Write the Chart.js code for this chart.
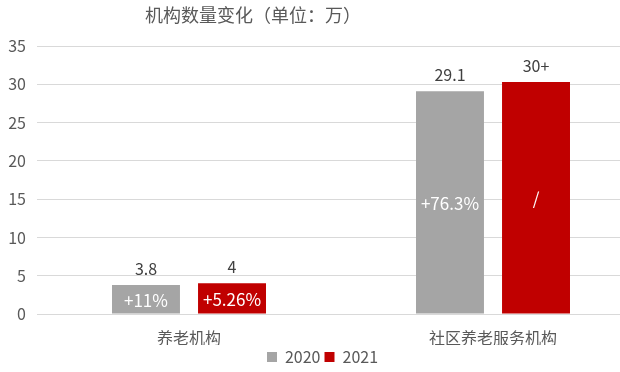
<!DOCTYPE html>
<html lang="zh-CN">
<head>
<meta charset="UTF-8">
<title>机构数量变化</title>
<script src="https://cdn.jsdelivr.net/npm/chart.js"></script>
<style>
  body { margin: 0; background: #fff; }
  #wrap { position: relative; width: 620px; height: 372px; overflow: hidden; }
  #inner { position: absolute; left: 0; top: 0; width: 645px; height: 372px; }
  #titulo {
    position: absolute; left: 0; top: 1px; width: 506px; text-align: center;
    font-family: "Noto Sans CJK SC", sans-serif; font-size: 18px; color: #595959;
  }
</style>
</head>
<body>
<div id="wrap">
  <div id="inner"><canvas id="grafico"></canvas></div>
  <div id="titulo">机构数量变化（单位：万）</div>
</div>
<script>
// dados
const categorias = ['养老机构', '社区养老服务机构'];
const valores2020 = [3.8, 29.1];
const valores2021 = [4, 30.3];
const rotulos2020 = ['3.8', '29.1'];
const rotulos2021 = ['4', '30+'];
const internos2020 = ['+11%', '+76.3%'];
const internos2021 = ['+5.26%', '/'];

const fonte = '"Noto Sans CJK SC", sans-serif';

// desenha os rótulos acima e dentro das barras
const rotulosPlugin = {
  id: 'rotulos',
  afterDatasetsDraw(chart) {
    const ctx = chart.ctx;
    const topo = [rotulos2020, rotulos2021];
    const dentro = [internos2020, internos2021];
    ctx.save();
    ctx.textAlign = 'center';
    ctx.textBaseline = 'middle';
    chart.data.datasets.forEach((ds, i) => {
      chart.getDatasetMeta(i).data.forEach((bar, j) => {
        ctx.font = '16px ' + fonte;
        ctx.fillStyle = '#404040';
        ctx.fillText(topo[i][j], bar.x, bar.y - 16);
        ctx.font = '17px ' + fonte;
        ctx.fillStyle = '#ffffff';
        ctx.fillText(dentro[i][j], bar.x, (bar.y + bar.base) / 2 + 1);
      });
    });
    ctx.restore();
  }
};

new Chart(document.getElementById('grafico'), {
  type: 'bar',
  data: {
    labels: categorias,
    datasets: [
      { label: '2020', data: valores2020, backgroundColor: '#a5a5a5' },
      { label: '2021', data: valores2021, backgroundColor: '#c00000' }
    ]
  },
  options: {
    responsive: true,
    maintainAspectRatio: false,
    animation: false,
    categoryPercentage: 0.566,
    barPercentage: 0.79,
    layout: { padding: { top: 46, left: 0, right: 0, bottom: 0 } },
    plugins: {
      title: { display: false },
      tooltip: { enabled: false },
      legend: {
        position: 'bottom',
        maxHeight: 27,
        labels: {
          boxWidth: 10, boxHeight: 10, padding: 4,
          color: '#595959', font: { family: fonte, size: 16 }
        }
      }
    },
    scales: {
      x: {
        grid: { display: false },
        border: { display: false },
        ticks: { color: '#595959', font: { family: fonte, size: 16 }, padding: 6 },
        afterFit(scale) { scale.height = 31; }
      },
      y: {
        min: 0, max: 35,
        ticks: { stepSize: 5, color: '#595959', font: { family: fonte, size: 16 }, padding: 11 },
        grid: { color: '#d9d9d9', drawTicks: false },
        border: { display: false },
        afterFit(scale) { scale.width = 37; }
      }
    }
  },
  plugins: [rotulosPlugin]
});
</script>
</body>
</html>
